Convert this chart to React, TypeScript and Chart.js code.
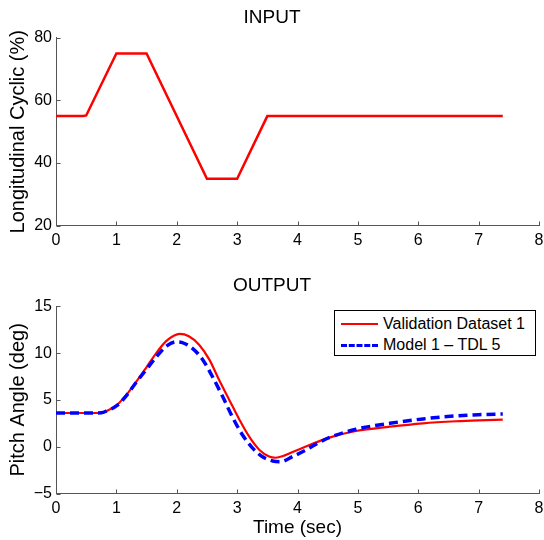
import React, { useEffect, useRef } from "react";
import { Chart, registerables } from "chart.js";

Chart.register(...registerables);

// ---------- data ----------
const inputTime = [0, 0.45, 0.5, 1, 1.5, 2.5, 3, 3.5, 7.4];
const inputValues = [55, 55, 55.2, 75, 75, 35, 35, 55, 55];

const validationTime = [
  0, 0.5, 0.75, 0.85, 1.0, 1.16, 1.32, 1.49, 1.66, 1.82, 1.95, 2.05, 2.2, 2.37,
  2.54, 2.7, 2.87, 3.04, 3.2, 3.37, 3.53, 3.64, 3.76, 3.87, 4.0, 4.2, 4.54,
  4.97, 5.53, 6.08, 6.63, 7.0, 7.4,
];
const validationValues = [
  3.6, 3.6, 3.62, 3.85, 4.4, 5.5, 6.85, 8.4, 10.0, 11.25, 11.85, 12.05, 11.8,
  10.9, 9.3, 7.15, 5.0, 2.86, 1.07, -0.35, -1.05, -1.18, -1.0, -0.7, -0.35,
  0.18, 1.0, 1.68, 2.14, 2.5, 2.72, 2.82, 2.9,
];

const modelTime = [
  0, 0.5, 0.75, 0.85, 1.0, 1.16, 1.32, 1.49, 1.66, 1.82, 1.99, 2.08, 2.26,
  2.43, 2.59, 2.76, 2.92, 3.09, 3.26, 3.42, 3.59, 3.72, 3.92, 4.14, 4.3, 4.54,
  4.97, 5.53, 6.08, 6.63, 7.0, 7.4,
];
const modelValues = [
  3.6, 3.6, 3.62, 3.85, 4.35, 5.4, 6.8, 8.2, 9.58, 10.7, 11.2, 11.15, 10.5,
  9.3, 7.5, 5.36, 3.2, 1.25, -0.18, -1.07, -1.53, -1.6, -1.05, -0.35, 0.25,
  1.0, 1.86, 2.5, 2.97, 3.29, 3.42, 3.5,
];

const legendLabels = ["Validation Dataset 1", "Model 1 \u2013 TDL 5"];
const topTitle = "INPUT";
const bottomTitle = "OUTPUT";
const topYLabel = "Longitudinal Cyclic (%)";
const bottomYLabel = "Pitch Angle (deg)";
const xLabel = "Time (sec)";

const xRange = [0, 8];
const topYRange = [20, 80];
const bottomYRange = [-5, 15];

// ---------- style ----------
const FONT = "'Liberation Sans', Arial, Helvetica, sans-serif";
const AXIS = "#555555";
const RED = "#ff0000";
const BLUE = "#0000ff";

const inwardTicks = {
  id: "inwardTicks",
  afterDraw(chart: any) {
    const { ctx, chartArea, scales } = chart;
    ctx.save();
    ctx.strokeStyle = AXIS;
    ctx.lineWidth = 1;
    const xs = scales.x;
    const ys = scales.y;
    const bottom = Math.round(chartArea.bottom) - 0.5;
    const left = Math.round(chartArea.left) + 0.5;
    xs.ticks.forEach((t: any) => {
      const px = Math.round(xs.getPixelForValue(t.value)) + 0.5;
      ctx.beginPath();
      ctx.moveTo(px, bottom);
      ctx.lineTo(px, bottom - 4);
      ctx.stroke();
    });
    ys.ticks.forEach((t: any) => {
      const py = Math.round(ys.getPixelForValue(t.value)) + 0.5;
      ctx.beginPath();
      ctx.moveTo(left, py);
      ctx.lineTo(left + 4, py);
      ctx.stroke();
    });
    ctx.restore();
  },
};

const fmt = (v: number) => (v < 0 ? "\u2212" + Math.abs(v) : String(v));

function makeOptions(opts: {
  title: string;
  titlePad: { top: number; bottom: number };
  yLabel: string;
  yMin: number;
  yMax: number;
  yStep: number;
  xTitle?: string;
  xHeight: number;
}): any {
  return {
    responsive: false,
    animation: false,
    layout: { padding: { left: 0, right: 0, top: 0, bottom: 0 } },
    plugins: {
      legend: { display: false },
      tooltip: { enabled: false },
      title: {
        display: true,
        text: opts.title,
        color: "#000",
        font: { family: FONT, size: 19, weight: "normal", lineHeight: 1.2 },
        padding: opts.titlePad,
      },
    },
    scales: {
      x: {
        type: "linear",
        min: xRange[0],
        max: xRange[1],
        grid: { display: false, drawTicks: false },
        border: { display: true, color: AXIS, width: 1 },
        ticks: {
          stepSize: 1,
          color: "#000",
          padding: 5,
          maxRotation: 0,
          font: { family: FONT, size: 16 },
          callback: (v: number) => fmt(v),
        },
        title: opts.xTitle
          ? {
              display: true,
              text: opts.xTitle,
              color: "#000",
              font: { family: FONT, size: 19, lineHeight: 1.2 },
              padding: { top: 0, bottom: 1 },
            }
          : { display: false },
        afterFit: (s: any) => {
          s.height = opts.xHeight;
          s.paddingRight = 5;
          s.paddingLeft = 0;
        },
      },
      y: {
        type: "linear",
        min: opts.yMin,
        max: opts.yMax,
        grid: { display: false, drawTicks: false },
        border: { display: true, color: AXIS, width: 1 },
        ticks: {
          stepSize: opts.yStep,
          color: "#000",
          padding: 4,
          font: { family: FONT, size: 16 },
          callback: (v: number) => fmt(v),
        },
        title: {
          display: true,
          text: opts.yLabel,
          color: "#000",
          font: { family: FONT, size: 20, lineHeight: 1.2 },
          padding: { top: 6, bottom: 0 },
        },
        afterFit: (s: any) => {
          s.width = 56;
        },
      },
    },
  };
}

export default function App() {
  const topRef = useRef<HTMLCanvasElement>(null);
  const botRef = useRef<HTMLCanvasElement>(null);

  useEffect(() => {
    Chart.defaults.font.family = FONT;
    const top = new Chart(topRef.current as HTMLCanvasElement, {
      type: "line",
      data: {
        datasets: [
          {
            label: topYLabel,
            data: inputTime.map((t, i) => ({ x: t, y: inputValues[i] })),
            borderColor: RED,
            borderWidth: 2.5,
            pointRadius: 0,
            fill: false,
            tension: 0,
          },
        ],
      },
      options: makeOptions({
        title: topTitle,
        titlePad: { top: 6, bottom: 9 },
        yLabel: topYLabel,
        yMin: topYRange[0],
        yMax: topYRange[1],
        yStep: 20,
        xHeight: 44.3,
      }),
      plugins: [inwardTicks],
    });

    const bot = new Chart(botRef.current as HTMLCanvasElement, {
      type: "line",
      data: {
        datasets: [
          {
            label: legendLabels[0],
            data: validationTime.map((t, i) => ({ x: t, y: validationValues[i] })),
            borderColor: RED,
            borderWidth: 2.2,
            pointRadius: 0,
            fill: false,
            cubicInterpolationMode: "monotone",
            order: 2,
          },
          {
            label: legendLabels[1],
            data: modelTime.map((t, i) => ({ x: t, y: modelValues[i] })),
            borderColor: BLUE,
            borderWidth: 3.5,
            borderDash: [9, 5],
            pointRadius: 0,
            fill: false,
            cubicInterpolationMode: "monotone",
            order: 1,
          },
        ],
      },
      options: makeOptions({
        title: bottomTitle,
        titlePad: { top: 4, bottom: 9.5 },
        yLabel: bottomYLabel,
        yMin: bottomYRange[0],
        yMax: bottomYRange[1],
        yStep: 5,
        xTitle: xLabel,
        xHeight: 46.5,
      }),
      plugins: [inwardTicks],
    });

    return () => {
      top.destroy();
      bot.destroy();
    };
  }, []);

  const legendRow = (i: number) => (
    <div
      key={i}
      style={{
        position: "absolute",
        left: 0,
        top: i === 0 ? 3 : 24,
        height: 20,
        width: 200,
      }}
    >
      <div
        style={{
          position: "absolute",
          left: 6,
          width: 37,
          top: 9,
          height: 0,
          borderTop: i === 0 ? `2.2px solid ${RED}` : `3.5px dashed ${BLUE}`,
        }}
      />
      <span
        style={{
          position: "absolute",
          left: 48,
          top: 0,
          lineHeight: "20px",
          fontFamily: FONT,
          fontSize: 16,
          color: "#000",
          whiteSpace: "nowrap",
        }}
      >
        {legendLabels[i]}
      </span>
    </div>
  );

  return (
    <div
      style={{
        position: "fixed",
        left: 0,
        top: 0,
        width: 544,
        height: 540,
        background: "#fff",
      }}
    >
      <canvas
        ref={topRef}
        width={544}
        height={270}
        style={{ position: "absolute", left: 0, top: 0, width: 544, height: 270 }}
      />
      <canvas
        ref={botRef}
        width={544}
        height={270}
        style={{ position: "absolute", left: 0, top: 270, width: 544, height: 270 }}
      />
      <div
        style={{
          position: "absolute",
          left: 334,
          top: 310,
          width: 200,
          height: 44,
          border: "1px solid #000",
          background: "#fff",
        }}
      >
        {legendRow(0)}
        {legendRow(1)}
      </div>
    </div>
  );
}
